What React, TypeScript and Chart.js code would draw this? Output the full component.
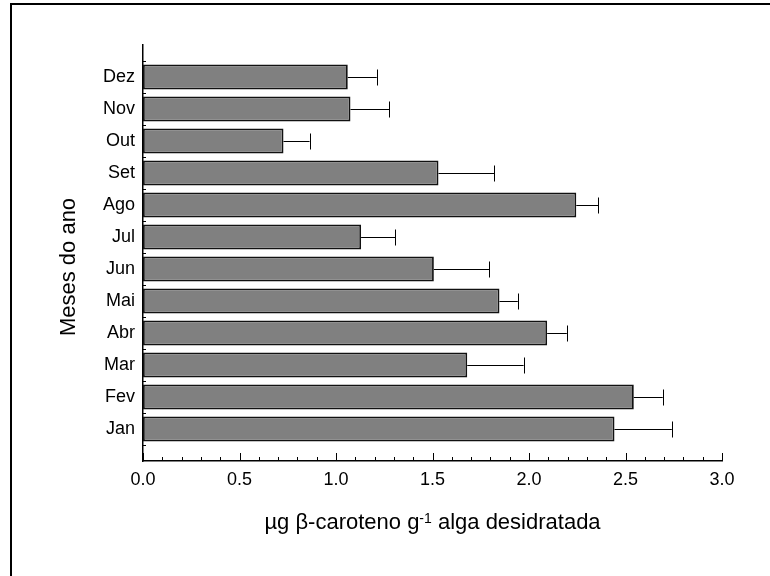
import React, { useEffect, useRef } from 'react';
import { Chart, registerables } from 'chart.js';

Chart.register(...registerables);

const months = ['Jan', 'Fev', 'Mar', 'Abr', 'Mai', 'Jun', 'Jul', 'Ago', 'Set', 'Out', 'Nov', 'Dez'];
const means = [2.443, 2.543, 1.68, 2.094, 1.847, 1.507, 1.13, 2.245, 1.531, 0.728, 1.075, 1.061];
const errors = [0.297, 0.15, 0.292, 0.102, 0.095, 0.288, 0.178, 0.115, 0.29, 0.135, 0.202, 0.15];
const xTitleMain = 'µg β-caroteno g';
const xTitleSup = '-1';
const xTitleEnd = ' alga desidratada';
const yTitle = 'Meses do ano';

const FONT = '"Liberation Sans", Arial, sans-serif';

const decorPlugin = {
  id: 'decor',
  beforeDraw(chart: any) {
    const ctx = chart.ctx;
    ctx.save();
    ctx.fillStyle = '#ffffff';
    ctx.fillRect(0, 0, chart.width, chart.height);
    ctx.strokeStyle = '#000';
    ctx.lineWidth = 2;
    ctx.beginPath();
    ctx.moveTo(11, chart.height + 10);
    ctx.lineTo(11, 4);
    ctx.lineTo(chart.width + 10, 4);
    ctx.stroke();
    ctx.restore();
  },
  afterDraw(chart: any) {
    const ctx = chart.ctx;
    const xs = chart.scales.x;
    const ys = chart.scales.y;
    const area = chart.chartArea;
    ctx.save();
    ctx.strokeStyle = '#000';
    ctx.lineWidth = 1;
    // x ticks (inward), minor every 0.1, major every 0.5
    for (let i = 0; i <= 30; i++) {
      const v = i / 10;
      const px = Math.round(xs.getPixelForValue(v)) + 0.5;
      const len = i % 5 === 0 ? 8 : 4;
      ctx.beginPath();
      ctx.moveTo(px, area.bottom);
      ctx.lineTo(px, area.bottom - len);
      ctx.stroke();
    }
    // y ticks (inward) at category boundaries
    for (let i = 0; i <= months.length; i++) {
      const py = Math.round(ys.getPixelForValue(i + 0.5)) + 0.5;
      ctx.beginPath();
      ctx.moveTo(area.left, py);
      ctx.lineTo(area.left + 3, py);
      ctx.stroke();
    }
    // titles
    ctx.fillStyle = '#000';
    ctx.textBaseline = 'alphabetic';
    const big = '22px ' + FONT;
    const small = '14px ' + FONT;
    ctx.font = big;
    const w1 = ctx.measureText(xTitleMain).width;
    const w3 = ctx.measureText(xTitleEnd).width;
    ctx.font = small;
    const w2 = ctx.measureText(xTitleSup).width;
    const total = w1 + w2 + w3;
    const cx = (area.left + area.right) / 2;
    let x0 = cx - total / 2;
    const base = 528.5;
    ctx.textAlign = 'left';
    ctx.font = big;
    ctx.fillText(xTitleMain, x0, base);
    ctx.font = small;
    ctx.fillText(xTitleSup, x0 + w1, base - 6);
    ctx.font = big;
    ctx.fillText(xTitleEnd, x0 + w1 + w2, base);

    ctx.translate(75, 267);
    ctx.rotate(-Math.PI / 2);
    ctx.textAlign = 'center';
    ctx.font = big;
    ctx.fillText(yTitle, 0, 0);
    ctx.restore();
  },
  afterDatasetsDraw(chart: any) {
    const ctx = chart.ctx;
    const xs = chart.scales.x;
    const meta = chart.getDatasetMeta(0);
    ctx.save();
    ctx.strokeStyle = '#000';
    ctx.lineWidth = 1;
    meta.data.forEach((bar: any, i: number) => {
      const x1 = xs.getPixelForValue(means[i]);
      const x2 = xs.getPixelForValue(means[i] + errors[i]);
      const y = Math.round(bar.y) + 0.5;
      ctx.beginPath();
      ctx.moveTo(x1, y);
      ctx.lineTo(x2, y);
      ctx.stroke();
      const xc = Math.round(x2) + 0.5;
      ctx.beginPath();
      ctx.moveTo(xc, y - 8);
      ctx.lineTo(xc, y + 8);
      ctx.stroke();
    });
    ctx.restore();
  },
};

export default function App() {
  const canvasRef = useRef<HTMLCanvasElement | null>(null);

  useEffect(() => {
    const canvas = canvasRef.current;
    if (!canvas) return;
    const chart = new Chart(canvas, {
      type: 'bar',
      data: {
        datasets: [
          {
            data: months.map((m, i) => ({ x: means[i], y: i + 1 })),
            backgroundColor: '#808080',
            borderColor: '#111111',
            borderWidth: 1.8,
            borderSkipped: false,
            barPercentage: 0.78,
            categoryPercentage: 1,
          },
        ],
      },
      options: {
        indexAxis: 'y',
        responsive: false,
        animation: false,
        devicePixelRatio: 1,
        layout: { padding: { left: 0, top: 45, right: 48, bottom: 0 } },
        plugins: {
          legend: { display: false },
          tooltip: { enabled: false },
          title: { display: false },
        },
        scales: {
          x: {
            type: 'linear',
            min: 0,
            max: 3,
            offset: false,
            grid: { display: false, drawTicks: false },
            border: { display: true, color: '#000', width: 1.5 },
            ticks: {
              stepSize: 0.5,
              padding: 8,
              color: '#000',
              font: { family: FONT, size: 18 },
              callback: (v: any) => Number(v).toFixed(1),
            },
            afterFit: (s: any) => {
              s.height = 115;
            },
          },
          y: {
            type: 'linear',
            min: 0,
            max: 13,
            offset: false,
            grid: { display: false, drawTicks: false, offset: false },
            border: { display: true, color: '#000', width: 1.5 },
            afterBuildTicks: (s: any) => {
              s.ticks = months.map((m, i) => ({ value: i + 1 }));
            },
            ticks: {
              autoSkip: false,
              padding: 8,
              color: '#000',
              font: { family: FONT, size: 18 },
              callback: (v: any) => months[Math.round(Number(v)) - 1] ?? '',
            },
            afterFit: (s: any) => {
              s.width = 143;
            },
          },
        },
      },
      plugins: [decorPlugin],
    });
    return () => chart.destroy();
  }, []);

  return (
    <div style={{ position: 'fixed', left: 0, top: 0, width: 770, height: 576, background: '#fff' }}>
      <canvas ref={canvasRef} width={770} height={576} style={{ width: 770, height: 576 }} />
    </div>
  );
}
